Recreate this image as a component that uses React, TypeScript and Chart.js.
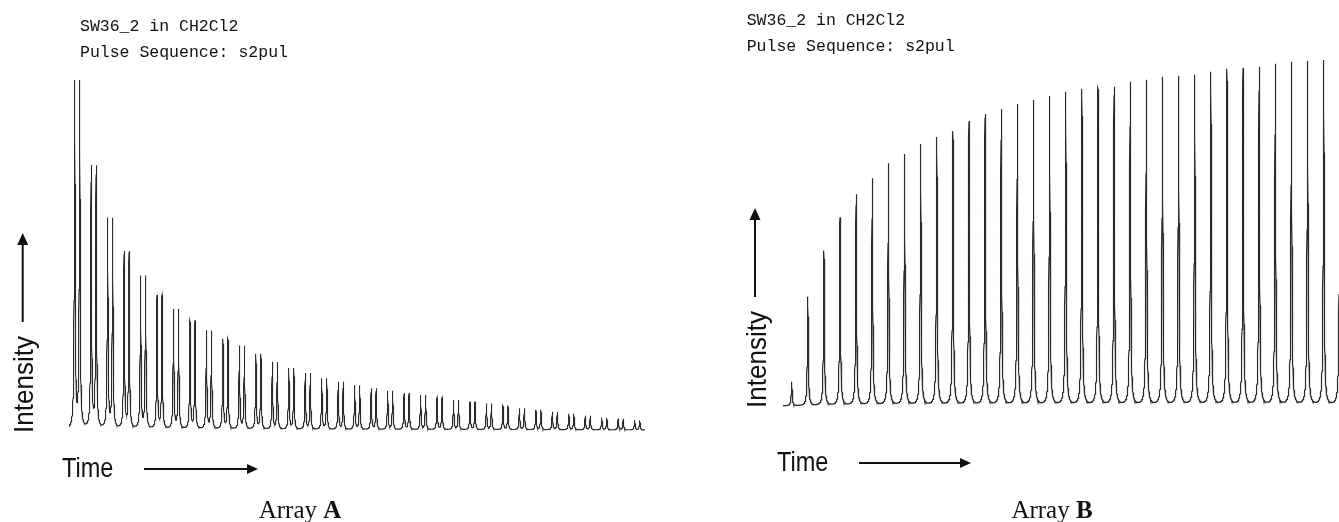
import React, { useEffect, useRef } from "react";
import { Chart, registerables } from "chart.js";

Chart.register(...registerables);

// ---------- text ----------
const headerLines = ["SW36_2 in CH2Cl2", "Pulse Sequence: s2pul"];
const yAxisLabel = "Intensity";
const xAxisLabel = "Time";
const captionPrefix = "Array ";
const panelLetters = ["A", "B"];

// ---------- data (relative intensity) ----------
// Array A: a doublet per increment, decaying
const arrayAIncrements = [
  1, 2, 3, 4, 5, 6, 7, 8, 9, 10, 11, 12, 13, 14, 15, 16, 17, 18, 19, 20, 21, 22,
  23, 24, 25, 26, 27, 28, 29, 30, 31, 32, 33, 34, 35,
];
const arrayAHeights = [
  346, 261, 209, 176, 152, 133, 119, 108, 98, 90, 83, 75, 67, 61, 56, 51, 47.5,
  44, 41, 38.5, 36.5, 34.5, 32, 29.5, 27.5, 26, 24, 21.5, 20, 18, 16, 14, 12, 11,
  9.5,
];
// Array B: a singlet per increment, recovering
const arrayBIncrements = [
  1, 2, 3, 4, 5, 6, 7, 8, 9, 10, 11, 12, 13, 14, 15, 16, 17, 18, 19, 20, 21, 22,
  23, 24, 25, 26, 27, 28, 29, 30, 31, 32, 33, 34, 35,
];
const arrayBHeights = [
  24, 109, 155, 188, 211, 227, 242, 251, 261, 268, 274, 284, 291, 296, 301, 305,
  309, 313, 316, 317, 318, 323, 325, 328, 329, 330, 333, 336, 337, 338, 341, 343,
  344, 345, 346,
];

// ---------- spectrum builder (Lorentzian lines at each increment) ----------
type Pt = { x: number; y: number };
function buildSpectrum(
  centers: number[],
  heights: number[],
  hw: number,
  min: number,
  max: number,
  step: number
): Pt[] {
  const xs: number[] = [];
  for (let x = min; x <= max + step; x += step) xs.push(x);
  centers.forEach((c) => {
    if (c >= min - 1 && c <= max + 1) xs.push(c);
  });
  xs.sort((a, b) => a - b);
  return xs.map((x) => {
    let y = 0;
    for (let k = 0; k < centers.length; k++) {
      const d = (x - centers[k]) / hw;
      y += heights[k] / (1 + d * d);
    }
    return { x, y };
  });
}

function drawArrow(
  ctx: CanvasRenderingContext2D,
  x1: number,
  y1: number,
  x2: number,
  y2: number,
  head: number,
  headW: number,
  lw: number
) {
  const ang = Math.atan2(y2 - y1, x2 - x1);
  const bx = x2 - Math.cos(ang) * head;
  const by = y2 - Math.sin(ang) * head;
  ctx.save();
  ctx.strokeStyle = "#111";
  ctx.fillStyle = "#111";
  ctx.lineWidth = lw;
  ctx.beginPath();
  ctx.moveTo(x1, y1);
  ctx.lineTo(bx + Math.cos(ang) * 1, by + Math.sin(ang) * 1);
  ctx.stroke();
  ctx.beginPath();
  ctx.moveTo(x2, y2);
  ctx.lineTo(bx - Math.sin(ang) * headW / 2, by + Math.cos(ang) * headW / 2);
  ctx.lineTo(bx + Math.sin(ang) * headW / 2, by - Math.cos(ang) * headW / 2);
  ctx.closePath();
  ctx.fill();
  ctx.restore();
}

type Deco = {
  titleX: number;
  titleY: number[];
  yLabX: number;
  yLabY: number;
  vArrow: [number, number, number];
  timeX: number;
  timeY: number;
  hArrow: [number, number, number];
  capX: number;
  capY: number;
  letter: string;
};

function decoPlugin(d: Deco) {
  return {
    id: "deco",
    afterDraw(chart: any) {
      const ctx: CanvasRenderingContext2D = chart.ctx;
      ctx.save();
      ctx.fillStyle = "#111";
      ctx.textBaseline = "alphabetic";
      ctx.textAlign = "left";
      // header
      ctx.font = '16.5px "Liberation Mono", "DejaVu Sans Mono", monospace';
      headerLines.forEach((t, i) => ctx.fillText(t, d.titleX, d.titleY[i]));
      // y label rotated
      ctx.save();
      ctx.translate(d.yLabX, d.yLabY);
      ctx.rotate(-Math.PI / 2);
      ctx.scale(0.93, 1);
      ctx.font = '28px "Liberation Sans", Arial, sans-serif';
      ctx.fillText(yAxisLabel, 0, 0);
      ctx.restore();
      drawArrow(ctx, d.vArrow[0], d.vArrow[1], d.vArrow[0], d.vArrow[2], 12, 11, 2);
      // x label
      ctx.save();
      ctx.translate(d.timeX, d.timeY);
      ctx.scale(0.84, 1);
      ctx.font = '28px "Liberation Sans", Arial, sans-serif';
      ctx.fillText(xAxisLabel, 0, 0);
      ctx.restore();
      drawArrow(ctx, d.hArrow[0], d.hArrow[2], d.hArrow[1], d.hArrow[2], 11, 10, 2);
      // caption
      const reg = '25px "Liberation Serif", "Times New Roman", serif';
      const bold = 'bold 25px "Liberation Serif", "Times New Roman", serif';
      ctx.font = reg;
      const w1 = ctx.measureText(captionPrefix).width;
      ctx.font = bold;
      const w2 = ctx.measureText(d.letter).width;
      const x0 = d.capX - (w1 + w2) / 2;
      ctx.font = reg;
      ctx.fillText(captionPrefix, x0, d.capY);
      ctx.font = bold;
      ctx.fillText(d.letter, x0 + w1, d.capY);
      ctx.restore();
    },
  };
}

function Panel(props: {
  left: number;
  width: number;
  build: () => { pts: Pt[]; xmin: number; xmax: number; ymin: number; ymax: number };
  padding: { left: number; right: number; top: number; bottom: number };
  deco: Deco;
  color: string;
  lw: number;
}) {
  const ref = useRef<HTMLCanvasElement>(null);
  useEffect(() => {
    if (!ref.current) return;
    const b = props.build();
    const chart = new Chart(ref.current, {
      type: "line",
      data: {
        datasets: [
          {
            data: b.pts as any,
            borderColor: props.color,
            borderWidth: props.lw,
            pointRadius: 0,
            tension: 0,
            fill: false,
          },
        ],
      },
      options: {
        animation: false,
        responsive: false,
        parsing: false,
        normalized: true,
        events: [],
        layout: { padding: props.padding },
        plugins: {
          legend: { display: false },
          tooltip: { enabled: false },
          title: { display: false },
        },
        scales: {
          x: { type: "linear", display: false, min: b.xmin, max: b.xmax },
          y: { type: "linear", display: false, min: b.ymin, max: b.ymax },
        },
      } as any,
      plugins: [decoPlugin(props.deco)],
    });
    return () => chart.destroy();
  }, []);
  return (
    <canvas
      ref={ref}
      width={props.width}
      height={522}
      style={{ position: "absolute", left: props.left, top: 0, width: props.width, height: 522 }}
    />
  );
}

function buildA() {
  const split = 0.152;
  const centers: number[] = [];
  const heights: number[] = [];
  arrayAIncrements.forEach((_, i) => {
    centers.push(i - split, i + split);
    heights.push(arrayAHeights[i], arrayAHeights[i]);
  });
  const xmin = -0.498;
  const xmax = 34.473;
  const pts = buildSpectrum(centers, heights, 0.0304, xmin, xmax, 0.006);
  return { pts, xmin, xmax, ymin: -2, ymax: 350 };
}

function buildB() {
  const centers: number[] = arrayBIncrements.map((_, i) => i);
  const xmin = -0.54;
  const xmax = 33.95;
  const pts = buildSpectrum(centers, arrayBHeights, 0.034, xmin, xmax, 0.0062);
  return { pts, xmin, xmax, ymin: -2, ymax: 351 };
}

export default function App() {
  const bOff = 669;
  return (
    <div
      style={{
        position: "absolute",
        left: 0,
        top: 0,
        width: 1339,
        height: 522,
        background: "#fff",
        overflow: "hidden",
      }}
    >
      <Panel
        left={0}
        width={669}
        build={buildA}
        padding={{ left: 69, right: 24, top: 80, bottom: 90 }}
        color="#2a2a2a"
        lw={1.1}
        deco={{
          titleX: 80,
          titleY: [31, 57],
          yLabX: 33,
          yLabY: 433,
          vArrow: [22.7, 322, 233],
          timeX: 62,
          timeY: 477,
          hArrow: [144, 258, 469],
          capX: 300,
          capY: 518,
          letter: panelLetters[0],
        }}
      />
      <Panel
        left={bOff}
        width={670}
        build={buildB}
        padding={{ left: 783 - bOff, right: 0, top: 55, bottom: 114 }}
        color="#2a2a2a"
        lw={1.2}
        deco={{
          titleX: 746.7 - bOff,
          titleY: [25, 51],
          yLabX: 766 - bOff,
          yLabY: 408,
          vArrow: [755 - bOff, 297, 208],
          timeX: 777 - bOff,
          timeY: 471,
          hArrow: [859 - bOff, 971 - bOff, 463],
          capX: 1052 - bOff,
          capY: 518,
          letter: panelLetters[1],
        }}
      />
    </div>
  );
}
